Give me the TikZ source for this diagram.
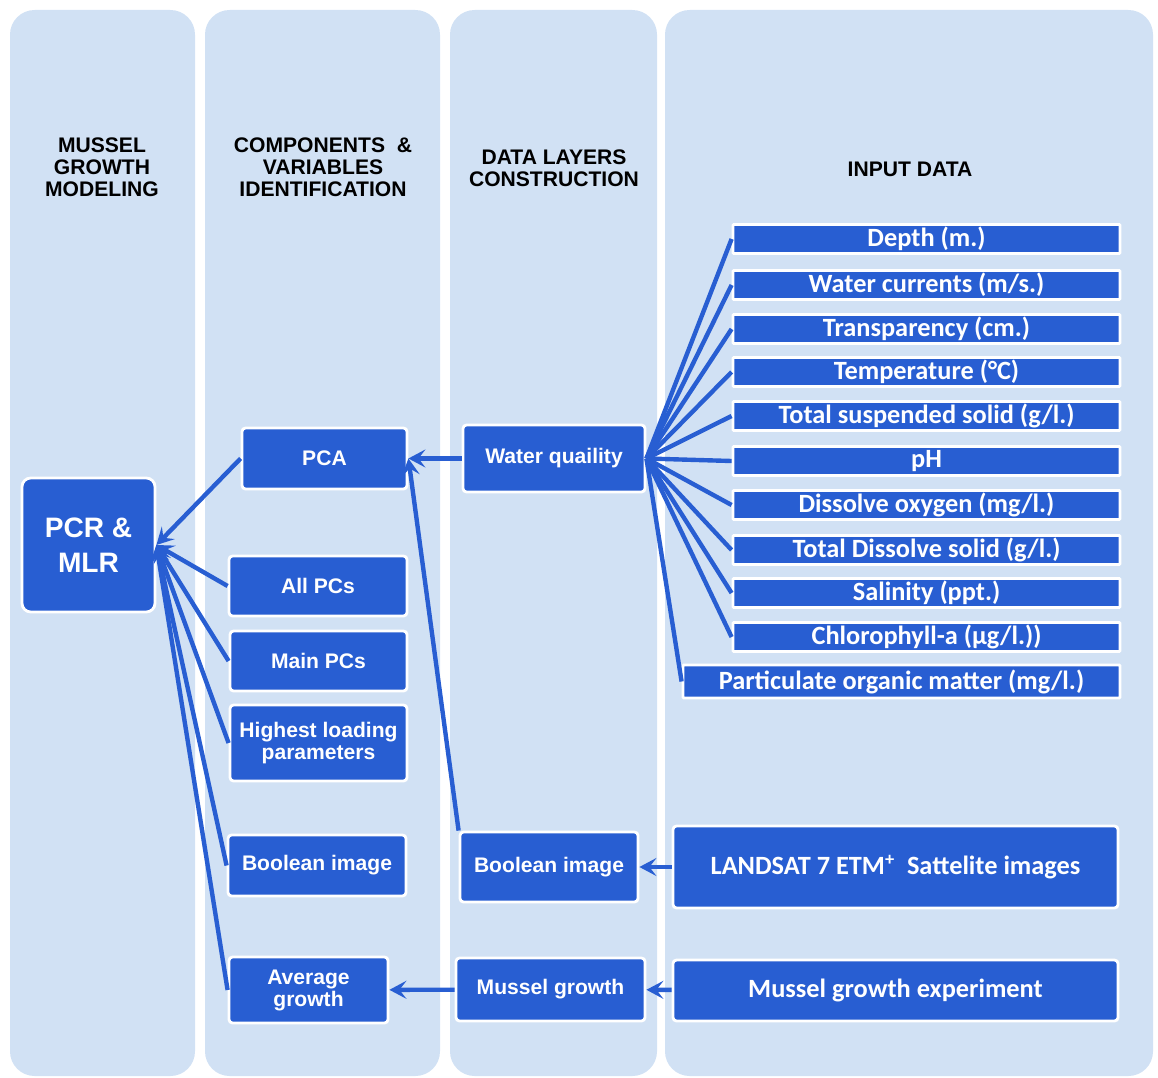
\documentclass[tikz,border=0pt]{standalone}
\usepackage{fontspec}
\setmainfont{Liberation Sans}
\newfontfamily\calibri{Carlito}
\usepackage{tikz}
\usetikzlibrary{arrows.meta,positioning}
\definecolor{colbg}{RGB}{209,225,244}
\definecolor{boxblue}{RGB}{40,94,210}
\tikzset{
  colband/.style  = {fill=colbg, rounded corners=14pt},
  colhead/.style  = {align=center, font=\fontsize{12}{12.5}\selectfont\bfseries,
                     text=black, inner sep=0pt},
  stepbox/.style  = {rectangle, rounded corners=2pt, draw=white, line width=1.6pt,
                     fill=boxblue, text=white, align=center,
                     font=\fontsize{12}{12.5}\selectfont\bfseries, inner sep=2pt},
  inbox/.style    = {rectangle, rounded corners=0.5pt, draw=white, line width=1.6pt,
                     fill=boxblue, text=white, inner sep=0pt,
                     font=\calibri\fontsize{15}{15}\selectfont\bfseries,
                     minimum width=77.4mm, minimum height=5.8mm},
  flow/.style     = {-{Stealth[length=3.4mm,width=3.6mm,inset=1.4mm]}, draw=boxblue,
                     line width=2.5pt},
  feed/.style     = {draw=boxblue, line width=2.5pt},
}

\begin{document}
\begin{tikzpicture}[x=0.2mm,y=-0.2mm]
  \useasboundingbox (0,0) rectangle (1158,1077);

  % column bands
  \fill[colband] (10,10)  rectangle (195,1076);
  \fill[colband] (205,10) rectangle (440,1076);
  \fill[colband] (450,10) rectangle (657,1076);
  \fill[colband] (665,10) rectangle (1153,1076);

  \node[colhead] (hmodel) at (102,167) {MUSSEL\\GROWTH\\MODELING};
  \node[colhead] (hcomp)  at (323,167) {COMPONENTS~~\&\\VARIABLES\\IDENTIFICATION};
  \node[colhead] (hlayer) at (554,168) {DATA LAYERS\\CONSTRUCTION};
  \node[colhead] (hinput) at (910,169) {INPUT DATA};

  % modeling + components
  \node[stepbox, rounded corners=5pt, minimum width=26.6mm, minimum height=26.8mm,
        font=\fontsize{16}{20}\selectfont\bfseries] (pcr) at (88.5,545) {PCR \&\\MLR};
  \node[stepbox, minimum width=33mm,   minimum height=12.2mm] (pca)   at (324.5,458.5) {PCA};
  \node[stepbox, minimum width=35.6mm, minimum height=12mm]   (allpc) at (318,586)     {All PCs};
  \node[stepbox, minimum width=35.4mm, minimum height=12mm]   (mainpc) at (318.5,661)   {Main PCs};
  \node[stepbox, minimum width=35.4mm, minimum height=15.2mm] (hiload) at (318.5,743)  {Highest loading\\parameters};
  \node[stepbox, minimum width=35.6mm, minimum height=12.2mm] (boolc) at (317,865.5)   {Boolean image};
  \node[stepbox, minimum width=31.8mm, minimum height=13.2mm] (avggr) at (308.5,990)   {Average\\growth};

  % data layers
  \node[stepbox, minimum width=36.4mm, minimum height=13.4mm] (wq)    at (554,458.5)   {Water quaility};
  \node[stepbox, minimum width=35.6mm, minimum height=14mm]   (booll) at (549,867)     {Boolean image};
  \node[stepbox, minimum width=37.8mm, minimum height=12.6mm] (mgr)   at (550.5,989.5) {Mussel growth};

  % input data
  \node[inbox] (dep)  at (926.5,239) {Depth (m.)};
  \node[inbox] (cur)  at (926.5,285) {Water currents (m/s.)};
  \node[inbox] (trp)  at (926.5,329) {Transparency (cm.)};
  \node[inbox] (tmp)  at (926.5,372) {Temperature (°C)};
  \node[inbox] (tss)  at (926.5,416) {Total suspended solid (g/l.)};
  \node[inbox] (ph)   at (926.5,461) {pH};
  \node[inbox] (dox)  at (926.5,505) {Dissolve oxygen (mg/l.)};
  \node[inbox] (tds)  at (926.5,550) {Total Dissolve solid (g/l.)};
  \node[inbox] (sal)  at (926.5,593) {Salinity (ppt.)};
  \node[inbox] (chl)  at (926.5,637) {Chlorophyll-a (µg/l.))};
  \node[inbox, minimum width=87.4mm, minimum height=6.6mm] (pom) at (901.5,681.5)
        {Particulate organic matter (mg/l.)};
  \node[inbox, rounded corners=2pt, minimum width=89mm, minimum height=16.4mm] (lsat) at (895.5,867)
        {LANDSAT 7 ETM\textsuperscript{+}\ \ Sattelite images};
  \node[inbox, rounded corners=2pt, minimum width=89mm, minimum height=12.2mm] (mgexp) at (895.5,990.5)
        {Mussel growth experiment};

  \draw[feed] (wq.east) -- (dep.west);
  \draw[feed] (wq.east) -- (cur.west);
  \draw[feed] (wq.east) -- (trp.west);
  \draw[feed] (wq.east) -- (tmp.west);
  \draw[feed] (wq.east) -- (tss.west);
  \draw[feed] (wq.east) -- (ph.west);
  \draw[feed] (wq.east) -- (dox.west);
  \draw[feed] (wq.east) -- (tds.west);
  \draw[feed] (wq.east) -- (sal.west);
  \draw[feed] (wq.east) -- (chl.west);
  \draw[feed] (wq.east) -- (pom.west);

  \draw[flow] (wq)    -- (pca);
  \draw[flow] (booll.north west) -- (pca.east);
  \draw[flow] (lsat)  -- (booll);
  \draw[flow] (mgexp) -- (mgr);
  \draw[flow] (mgr)   -- (avggr);

  \draw[flow] (pca.west)    -- (pcr.east);
  \draw[flow] (allpc.west)  -- (pcr.east);
  \draw[flow] (mainpc.west) -- (pcr.east);
  \draw[flow] (hiload.west) -- (pcr.east);
  \draw[flow] (boolc.west)  -- (pcr.east);
  \draw[flow] (avggr.west)  -- (pcr.east);
\end{tikzpicture}
\end{document}
